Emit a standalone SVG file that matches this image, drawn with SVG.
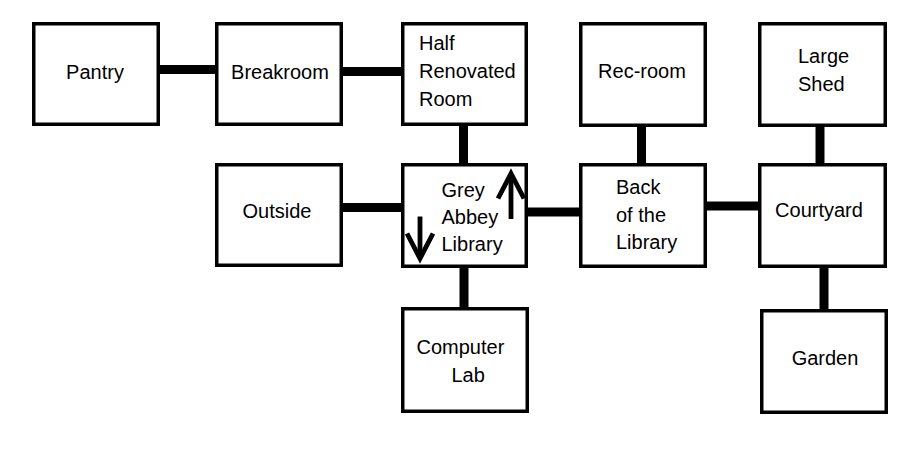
<svg xmlns="http://www.w3.org/2000/svg" width="918" height="450" viewBox="0 0 918 450">
  <style>
    .box { fill: #ffffff; stroke: #000000; stroke-width: 3.5; }
    .conn { stroke: #000000; stroke-width: 9; fill: none; }
    .arr { stroke: #000000; stroke-width: 4.8; fill: none; stroke-linejoin: miter; stroke-miterlimit: 10; }
    text { font-family: "Liberation Sans", Arial, sans-serif; font-size: 20px; fill: #000000; }
    .c { text-anchor: middle; }
  </style>
  <rect width="918" height="450" fill="#ffffff"/>
  <g id="connectors">
    <line class="conn" x1="160" y1="69.5" x2="215" y2="69.5"/>
    <line class="conn" x1="343" y1="71.5" x2="401" y2="71.5"/>
    <line class="conn" x1="463.5" y1="126" x2="463.5" y2="163"/>
    <line class="conn" x1="343" y1="207.5" x2="401" y2="207.5"/>
    <line class="conn" x1="528" y1="212" x2="579" y2="212"/>
    <line class="conn" x1="464" y1="268" x2="464" y2="307"/>
    <line class="conn" x1="641.5" y1="127" x2="641.5" y2="163"/>
    <line class="conn" x1="707" y1="206" x2="758" y2="206"/>
    <line class="conn" x1="820" y1="127" x2="820" y2="163"/>
    <line class="conn" x1="824" y1="268" x2="824" y2="309"/>
  </g>
  <g id="pantry">
    <rect class="box" x="33.75" y="23.75" width="124.5" height="100.5"/>
    <text class="c" x="95" y="79">Pantry</text>
  </g>
  <g id="breakroom">
    <rect class="box" x="216.75" y="23.75" width="124.5" height="100.5"/>
    <text class="c" x="280" y="79">Breakroom</text>
  </g>
  <g id="half-renovated-room">
    <rect class="box" x="402.75" y="23.75" width="123.5" height="100.5"/>
    <text x="419" y="49.5">Half</text>
    <text x="419" y="77.5">Renovated</text>
    <text x="419" y="105.5">Room</text>
  </g>
  <g id="outside">
    <rect class="box" x="216.75" y="164.75" width="124.5" height="100.5"/>
    <text class="c" x="277" y="217.5">Outside</text>
  </g>
  <g id="grey-abbey-library">
    <rect class="box" x="402.75" y="164.75" width="123.5" height="101.5"/>
    <text x="441.5" y="196.5">Grey</text>
    <text x="441.5" y="224">Abbey</text>
    <text x="441.5" y="250.5">Library</text>
    <line class="arr" x1="511" y1="219" x2="511" y2="174"/>
    <polyline class="arr" points="498,198.5 511,173.5 524,198.5"/>
    <line class="arr" x1="420" y1="216.5" x2="420" y2="258"/>
    <polyline class="arr" points="407,233.5 420,258.5 433,233.5"/>
  </g>
  <g id="computer-lab">
    <rect class="box" x="402.75" y="308.75" width="124.5" height="102.5"/>
    <text x="416.5" y="354">Computer</text>
    <text x="451.5" y="382">Lab</text>
  </g>
  <g id="rec-room">
    <rect class="box" x="580.75" y="23.75" width="124.5" height="101.5"/>
    <text class="c" x="642" y="78">Rec-room</text>
  </g>
  <g id="back-of-the-library">
    <rect class="box" x="580.75" y="164.75" width="124.5" height="101.5"/>
    <text x="616" y="194">Back</text>
    <text x="616" y="222">of the</text>
    <text x="616" y="249">Library</text>
  </g>
  <g id="large-shed">
    <rect class="box" x="759.75" y="23.75" width="125.5" height="101.5"/>
    <text x="798" y="63">Large</text>
    <text x="798" y="91">Shed</text>
  </g>
  <g id="courtyard">
    <rect class="box" x="759.75" y="164.75" width="125.5" height="101.5"/>
    <text class="c" x="819" y="217">Courtyard</text>
  </g>
  <g id="garden">
    <rect class="box" x="761.75" y="310.75" width="124.5" height="101.5"/>
    <text class="c" x="825" y="365">Garden</text>
  </g>
</svg>
